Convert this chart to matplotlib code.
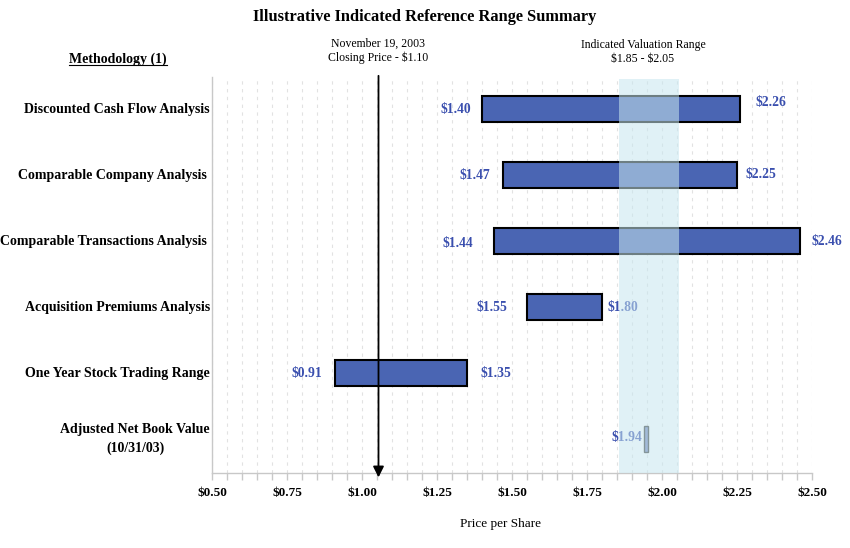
import matplotlib
matplotlib.use("Agg")
import matplotlib.pyplot as plt
from matplotlib.ticker import MultipleLocator, FixedLocator
from matplotlib.lines import Line2D

plt.rcParams["text.usetex"] = False

# ---------------- data ----------------
methodologies = [
    "Discounted Cash Flow Analysis",
    "Comparable Company Analysis ",
    "Comparable Transactions Analysis ",
    "Acquisition Premiums Analysis",
    "One Year Stock Trading Range",
    "Adjusted Net Book Value\n(10/31/03)",
]
low_values = [1.40, 1.47, 1.44, 1.55, 0.91, 1.94]
high_values = [2.26, 2.25, 2.46, 1.80, 1.35, 1.953]
show_high_label = [True, True, True, True, True, False]
valuation_range = [1.855, 2.055]
closing_marker = 1.055
x_ticks = [0.50, 0.75, 1.00, 1.25, 1.50, 1.75, 2.00, 2.25, 2.50]
x_tick_labels = ["$0.50", "$0.75", "$1.00", "$1.25", "$1.50", "$1.75", "$2.00", "$2.25", "$2.50"]

# --------------- layout / styles ---------------
W, H, DPI = 850, 548, 100
FONT = "Liberation Serif"
BAR_COLOR = "#4A65B3"
TEXT_BLUE = "#3A4FAE"
# per-row label offsets (pixels) and vertical nudges (pixels, + = down)
low_gap = [11, 13, 21, 20, 13, 2]
high_gap = [16, 9, 11, 6, 13, 0]
high_dy = [-7, -1, 0, 0, 0, 0]
low_dy = [0, 0, 2, 0, 0, -2]

fig = plt.figure(figsize=(W / DPI, H / DPI), dpi=DPI)
L, R, T, B = 212, 812, 77, 473
ax = fig.add_axes([L / W, 1 - B / H, (R - L) / W, (B - T) / H])

ax.set_xlim(0.5, 2.5)
ax.set_ylim(5.515, -0.485)

rows = list(range(len(methodologies)))
for i in rows:
    lo, hi = low_values[i], high_values[i]
    last = i == len(methodologies) - 1
    ax.barh(i, hi - lo, left=lo, height=0.40,
            color=("#7484BE" if last else BAR_COLOR),
            edgecolor=("#333333" if last else "black"),
            linewidth=(1.0 if last else 1.5), zorder=2)

px = 2.0 / (R - L)
py = 6.0 / (B - T)
for i in rows:
    lo, hi = low_values[i], high_values[i]
    ax.text(lo - low_gap[i] * px, i + low_dy[i] * py, f"\\${lo:.2f}",
            ha="right", va="center", color=TEXT_BLUE, fontsize=9.8,
            fontweight="bold", family=FONT, zorder=3)
    if show_high_label[i]:
        ax.text(hi + high_gap[i] * px, i + high_dy[i] * py, f"\\${hi:.2f}",
                ha="left", va="center", color=TEXT_BLUE, fontsize=9.8,
                fontweight="bold", family=FONT, zorder=3)

# valuation band (drawn over bars and labels)
ax.axvspan(valuation_range[0], valuation_range[1], ymin=0, ymax=0.995,
           color="#C8E7EF", alpha=0.55, lw=0, zorder=4)

ax.xaxis.set_major_locator(FixedLocator(x_ticks))
ax.xaxis.set_minor_locator(MultipleLocator(0.05))
ax.set_xticklabels([t.replace("$", "\\$") for t in x_tick_labels])
ax.grid(True, which="both", axis="x", color="#E2E2E2", linestyle=(0, (3, 4)),
        linewidth=0.8, zorder=0)
ax.set_axisbelow(True)
ax.set_yticks([])

for s in ["top", "right"]:
    ax.spines[s].set_visible(False)
for s in ["left", "bottom"]:
    ax.spines[s].set_color("#C8C8C8")
    ax.spines[s].set_linewidth(1.0)
ax.tick_params(axis="x", which="both", direction="out", length=5,
               color="#C8C8C8", width=1.0)
ax.tick_params(axis="x", which="major", pad=5)
for lab in ax.get_xticklabels():
    lab.set_fontfamily(FONT)
    lab.set_fontweight("bold")
    lab.set_fontsize(9.5)

ax.annotate("", xy=(closing_marker, -0.011), xycoords=("data", "axes fraction"),
            xytext=(closing_marker, 1.003), textcoords=("data", "axes fraction"),
            arrowprops=dict(arrowstyle="-|>", color="black", lw=1.3,
                            mutation_scale=16, shrinkA=0, shrinkB=0),
            annotation_clip=False, zorder=6)

for i in rows:
    ax.text(-2 * px + 0.5, i, methodologies[i], ha="right", va="center",
            multialignment="center", fontsize=10, fontweight="bold",
            family=FONT, color="black", linespacing=1.45)

fig.text(378 / W, 1 - 51 / H, "November 19, 2003\nClosing Price - \\$1.10",
         ha="center", va="center", fontsize=8.5, family=FONT, linespacing=1.25)
fig.text(643 / W, 1 - 52 / H, "Indicated Valuation Range\n\\$1.85 - \\$2.05",
         ha="center", va="center", fontsize=8.5, family=FONT, linespacing=1.25)

fig.text(425 / W, 1 - 17 / H, "Illustrative Indicated Reference Range Summary",
         ha="center", va="center", fontsize=11.8, fontweight="bold", family=FONT)

mt = fig.text(118 / W, 1 - 59 / H, "Methodology (1)", ha="center", va="center",
              fontsize=10, fontweight="bold", family=FONT)
fig.canvas.draw()
bb = mt.get_window_extent(renderer=fig.canvas.get_renderer())
uy = (bb.y0 + 1) / H
fig.add_artist(Line2D([bb.x0 / W, bb.x1 / W], [uy, uy], transform=fig.transFigure,
                      color="black", lw=0.8))

fig.text(500 / W, 1 - 524 / H, "Price per Share", ha="center", va="center",
         fontsize=9.5, family=FONT)

fig.savefig("out.png", dpi=DPI)
